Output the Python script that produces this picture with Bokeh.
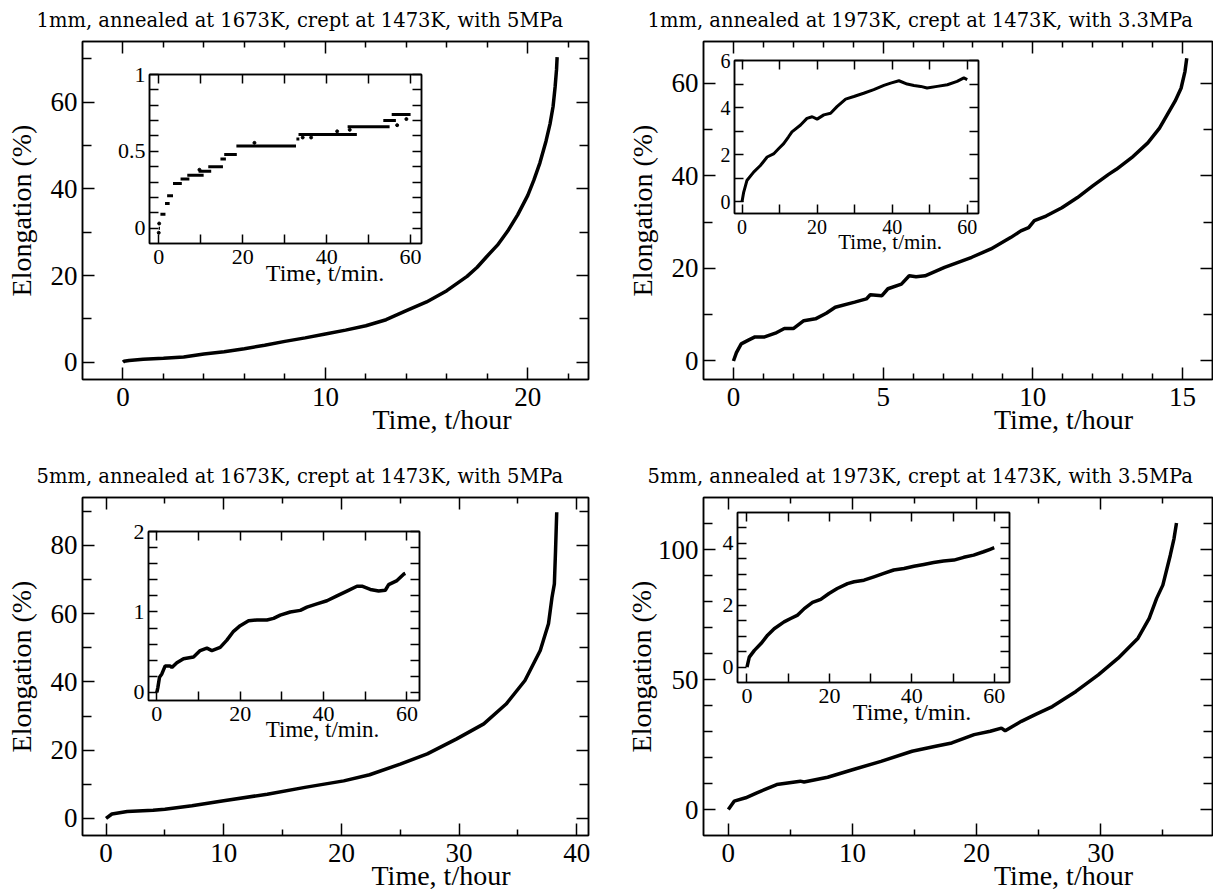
import math
from bokeh.plotting import figure
from bokeh.models import (LinearAxis, FixedTicker, Title, GridBox,
                          CustomJSTickFormatter, Range1d)
from bokeh.embed import file_html
from bokeh.resources import INLINE

# ---------------- texts ----------------
titles = [
    "1mm, annealed at 1673K, crept at 1473K, with 5MPa",
    "1mm, annealed at 1973K, crept at 1473K, with 3.3MPa",
    "5mm, annealed at 1673K, crept at 1473K, with 5MPa",
    "5mm, annealed at 1973K, crept at 1473K, with 3.5MPa",
]
x_title_main = "Time, t/hour"
y_title_main = "Elongation (%)"
x_title_inset = "Time, t/min."

# ---------------- data ----------------
# Panel 1 (1mm, 1673K, 5MPa)
p1_hours = [0, 0.05, 0.3, 1, 2, 3, 4, 5, 6, 7, 8, 9, 10, 11, 12, 13, 14, 15, 16, 17,
            17.5, 18, 18.5, 19, 19.5, 20, 20.3, 20.6, 20.9, 21.1, 21.25, 21.35, 21.42, 21.45]
p1_elong = [0, 0.2, 0.4, 0.7, 0.9, 1.2, 1.9, 2.4, 3.1, 3.9, 4.8, 5.6, 6.5, 7.4, 8.4, 9.8, 11.9,
            13.9, 16.5, 19.8, 21.9, 24.5, 27, 30.2, 34, 38.5, 42, 46, 51, 55, 59, 63.5, 67.5, 70.4]
p1_in_start = [0.0, 0.4, 1.5, 2.0, 3.4, 5.2, 6.8, 9.5, 11.8, 14.7, 15.6, 18.5, 32.8, 33.3, 45.0, 53.5, 55.5]
p1_in_end = [0.3, 1.6, 2.6, 3.4, 5.5, 7.3, 10.7, 12.5, 15.3, 16.0, 18.6, 32.7, 33.5, 47.2, 55.0, 56.5, 60.0]
p1_in_level = [0.0, 0.09, 0.16, 0.21, 0.29, 0.32, 0.345, 0.37, 0.40, 0.45, 0.48, 0.535, 0.58, 0.61,
               0.66, 0.70, 0.74]
p1_in_stray_t = [0.0, 0.1, 9.7, 22.8, 34.3, 36.3, 42.5, 45.5, 56.8, 59.0]
p1_in_stray_e = [-0.03, 0.03, 0.38, 0.555, 0.59, 0.59, 0.63, 0.64, 0.67, 0.71]

# Panel 2 (1mm, 1973K, 3.3MPa)
p2_hours = [0, 0.1, 0.26, 0.5, 0.72, 1.04, 1.4, 1.7, 2.0, 2.35, 2.74, 3.1, 3.4, 4.05, 4.44, 4.57,
            4.96, 5.16, 5.61, 5.87, 6.1, 6.4, 7.05, 7.96, 8.6, 9.27, 9.6, 9.86, 10.05, 10.44, 10.97,
            11.49, 12.0, 12.53, 12.79, 13.3, 13.84, 14.23, 14.49, 14.75, 14.95, 15.08, 15.14]
p2_elong = [0, 1.8, 3.7, 4.5, 5.2, 5.2, 6.0, 7.0, 7.0, 8.7, 9.1, 10.3, 11.6, 12.7, 13.4, 14.3,
            14.1, 15.6, 16.6, 18.4, 18.2, 18.4, 20.2, 22.4, 24.2, 26.7, 28.1, 28.8, 30.3, 31.3, 33.1,
            35.3, 37.8, 40.3, 41.4, 43.9, 47.1, 50.3, 53.2, 56.1, 58.9, 62.5, 65.4]
p2_in_min = [0, 0.44, 1.3, 3.1, 4.9, 6.7, 8.4, 9.8, 11.1, 12.4, 13.3, 15.6, 17.3, 18.7, 20.0, 21.8,
             23.6, 25.3, 27.6, 29.8, 32.4, 35.1, 37.8, 39.6, 41.8, 44.0, 45.8, 47.6, 49.3, 52.0,
             54.7, 57.3, 59.1, 60.0]
p2_in_elong = [0, 0.4, 0.9, 1.26, 1.54, 1.9, 2.03, 2.26, 2.47, 2.76, 2.97, 3.26, 3.54, 3.61, 3.51,
               3.69, 3.76, 4.04, 4.36, 4.47, 4.61, 4.76, 4.94, 5.04, 5.14, 5.0, 4.94, 4.9, 4.83, 4.9,
               4.97, 5.11, 5.26, 5.19]

# Panel 3 (5mm, 1673K, 5MPa)
p3_hours = [0, 0.5, 1.8, 4.0, 5.0, 7.3, 10, 13.7, 16.9, 20.2, 22.4, 25, 27.3, 29.8, 32.1, 34.0,
            35.6, 36.9, 37.6, 37.9, 38.1, 38.2, 38.3]
p3_elong = [0, 1.3, 2.0, 2.4, 2.7, 3.7, 5.2, 7.1, 9.1, 11.0, 12.8, 15.9, 18.9, 23.3, 27.7, 33.5,
            40.4, 49.2, 57.0, 64.8, 68.7, 78.5, 89.7]
p3_in_min = [0, 0.24, 0.64, 1.2, 2.0, 3.2, 3.6, 4.8, 6.4, 8.8, 10.4, 12.0, 13.2, 15.2, 16.8, 18.4,
             20.0, 22.0, 24.0, 26.4, 28.0, 29.6, 32.0, 34.4, 36.0, 38.4, 40.8, 43.2, 45.6, 48.0,
             49.2, 51.2, 53.2, 54.8, 55.6, 57.6, 59.2, 59.6]
p3_in_elong = [0, 0.06, 0.19, 0.23, 0.33, 0.33, 0.31, 0.37, 0.42, 0.44, 0.52, 0.55, 0.52, 0.56,
               0.65, 0.76, 0.83, 0.89, 0.90, 0.90, 0.92, 0.96, 1.0, 1.02, 1.06, 1.10, 1.14, 1.2,
               1.26, 1.32, 1.32, 1.28, 1.26, 1.27, 1.34, 1.39, 1.47, 1.48]

# Panel 4 (5mm, 1973K, 3.5MPa)
p4_hours = [0, 0.47, 1.4, 2.3, 3.9, 5.8, 6.1, 8.0, 10, 12.3, 14.8, 16.7, 18.0, 19.8, 21.1, 22.0,
            22.3, 23.6, 24.8, 26.1, 28.0, 29.8, 31.4, 33.0, 33.9, 34.5, 35.0, 35.6, 35.9, 36.1]
p4_elong = [0, 3.2, 4.5, 6.4, 9.6, 10.9, 10.6, 12.4, 15.3, 18.5, 22.4, 24.3, 25.6, 28.8, 30.1,
            31.3, 30.3, 33.9, 36.7, 39.6, 45.4, 51.8, 58.2, 65.9, 73.5, 81.2, 86.3, 97.8, 104.2,
            110.2]
p4_in_min = [0, 0.56, 1.8, 3.4, 5.0, 6.6, 9.0, 10.6, 12.3, 13.9, 15.9, 17.9, 19.9, 21.9, 24.4,
             26.0, 28.4, 30.8, 33.2, 35.6, 38.1, 40.5, 42.9, 45.3, 47.7, 50.2, 52.6, 55.0, 57.4,
             59.0, 60.0]
p4_in_elong = [0, 0.32, 0.54, 0.76, 1.03, 1.24, 1.46, 1.57, 1.68, 1.89, 2.09, 2.19, 2.38, 2.54,
               2.70, 2.76, 2.81, 2.92, 3.03, 3.14, 3.19, 3.26, 3.32, 3.38, 3.43, 3.46, 3.55, 3.62,
               3.73, 3.81, 3.86]

# ---------------- ticks ----------------
p1_xticks, p1_xminor = [0, 10, 20], [2, 4, 6, 8, 12, 14, 16, 18, 22]
p1_yticks, p1_yminor = [0, 20, 40, 60], [10, 30, 50, 70]
p2_xticks, p2_xminor = [0, 5, 10, 15], [1, 2, 3, 4, 6, 7, 8, 9, 11, 12, 13, 14]
p2_yticks, p2_yminor = [0, 20, 40, 60], [10, 30, 50]
p3_xticks, p3_xminor = [0, 10, 20, 30, 40], [5, 15, 25, 35]
p3_yticks, p3_yminor = [0, 20, 40, 60, 80], [10, 30, 50, 70, 90]
p4_xticks, p4_xminor = [0, 10, 20, 30], [5, 15, 25, 35]
p4_yticks, p4_yminor = [0, 50, 100], [10, 20, 30, 40, 60, 70, 80, 90, 110]
in_xticks, in_xminor = [0, 20, 40, 60], [10, 30, 50]
i1_yticks, i1_yminor = [0, 0.5, 1], [0.1, 0.2, 0.3, 0.4, 0.6, 0.7, 0.8, 0.9]
i1_ylabels = {0: "0", 0.5: "0.5", 1: "1"}
i2_yticks, i2_yminor = [0, 2, 4, 6], [1, 3, 5]
i3_yticks, i3_yminor = [0, 1, 2], [0.2, 0.4, 0.6, 0.8, 1.2, 1.4, 1.6, 1.8]
i4_yticks, i4_yminor = [0, 2, 4], [0.5, 1, 1.5, 2.5, 3, 3.5, 4.5]

SERIF = "Liberation Serif"
TFONT = "DejaVu Serif"


def cfg_axis(ax, ticks, minor, fsize, standoff, maj_len, min_len, labels=True, overrides=None):
    ax.ticker = FixedTicker(ticks=ticks, minor_ticks=minor)
    ax.major_tick_in = maj_len
    ax.major_tick_out = 0
    ax.minor_tick_in = min_len
    ax.minor_tick_out = 0
    ax.major_tick_line_width = 1.5
    ax.minor_tick_line_width = 1.5
    ax.major_tick_line_color = "black"
    ax.minor_tick_line_color = "black"
    ax.axis_line_width = 1.5
    ax.axis_line_color = "black"
    if labels:
        ax.major_label_text_font = SERIF
        ax.major_label_text_font_size = f"{fsize}px"
        ax.major_label_text_color = "black"
        ax.major_label_standoff = standoff
        if overrides:
            ax.major_label_overrides = overrides
    else:
        ax.formatter = CustomJSTickFormatter(code="return ''")
        ax.major_label_text_font_size = "1px"
        ax.major_label_standoff = 0


def make_fig(canvas, frame, xr, yr, transparent=False):
    cx0, cy0, cx1, cy1 = canvas
    fx0, fy0, fx1, fy1 = frame
    p = figure(width=cx1 - cx0, height=cy1 - cy0,
               x_range=Range1d(*xr), y_range=Range1d(*yr),
               output_backend="svg", toolbar_location=None,
               min_border_left=fx0 - cx0, min_border_right=cx1 - fx1,
               min_border_top=fy0 - cy0, min_border_bottom=cy1 - fy1)
    p.background_fill_color = "white"
    p.border_fill_color = None if transparent else "white"
    p.outline_line_color = "black"
    p.outline_line_width = 1.5
    p.grid.visible = False
    p.add_layout(LinearAxis(), "above")
    p.add_layout(LinearAxis(), "right")
    return p


def axes_setup(p, xt, xm, yt, ym, fsize, xstand, ystand, xlen, ylen, overrides=None):
    below, above = p.below[0], p.above[0]
    left, right = p.left[0], p.right[0]
    cfg_axis(below, xt, xm, fsize, xstand, xlen[0], xlen[1])
    cfg_axis(above, xt, xm, fsize, 0, xlen[0], xlen[1], labels=False)
    cfg_axis(left, yt, ym, fsize, ystand, ylen[0], ylen[1], overrides=overrides)
    cfg_axis(right, yt, ym, fsize, 0, ylen[0], ylen[1], labels=False)


def x_title(p, frame, text, size, shift, em_width, standoff):
    """Axis title below the tick labels, shifted right of the frame centre as in the original."""
    fw = frame[2] - frame[0]
    width = em_width * size
    p.add_layout(Title(text=text, align="left", offset=fw / 2 + shift - width / 2,
                       vertical_align="top", standoff=standoff,
                       text_font=SERIF, text_font_size=f"{size}px",
                       text_font_style="normal", text_color="black"), "below")


def main_panel(canvas, frame, xr, yr, xt, xm, yt, ym, xs, ys, ylab_standoff, title, title_left):
    p = make_fig(canvas, frame, xr, yr)
    axes_setup(p, xt, xm, yt, ym, 27, 8, 5, (12, 6), (12, 9))
    left = p.left[0]
    left.axis_label = y_title_main
    left.axis_label_text_font = SERIF
    left.axis_label_text_font_size = "28px"
    left.axis_label_text_font_style = "normal"
    left.axis_label_text_color = "black"
    left.axis_label_standoff = ylab_standoff
    p.title.text = title
    p.title.align = "left"
    p.title.offset = title_left - frame[0]
    p.title.vertical_align = "top"
    p.title.standoff = 15
    p.title.text_font = TFONT
    p.title.text_font_size = "19.5px"
    p.title.text_font_style = "normal"
    p.title.text_color = "black"
    x_title(p, frame, x_title_main, 28, 106, 5.0, -10)
    p.line(xs, ys, line_color="black", line_width=3.5)
    return p


def inset_panel(frame, xr, yr, yt, ym, fsize, tsize, tshift, overrides=None):
    fx0, fy0, fx1, fy1 = frame
    canvas = (fx0 - 45, fy0 - 16, fx1 + 8, fy1 + 50)
    p = make_fig(canvas, frame, xr, yr, transparent=True)
    axes_setup(p, in_xticks, in_xminor, yt, ym, fsize, 6, 4, (9, 9), (9, 9), overrides)
    x_title(p, frame, x_title_inset, tsize, tshift, 4.973, -14)
    return p, canvas


# ---------------- layout geometry ----------------
C1, F1 = (0, 0, 606, 447), (82, 41, 590, 379)
C2, F2 = (606, 0, 1213, 447), (703, 41, 1212, 379)
C3, F3 = (0, 447, 606, 894), (82, 497, 588, 835)
C4, F4 = (606, 447, 1213, 894), (703, 496, 1212, 835)

m1 = main_panel(C1, F1, (-2, 23), (-4, 74), p1_xticks, p1_xminor, p1_yticks, p1_yminor,
                p1_hours, p1_elong, 11, titles[0], 36)
m2 = main_panel(C2, F2, (-1, 16), (-4, 69), p2_xticks, p2_xminor, p2_yticks, p2_yminor,
                p2_hours, p2_elong, 11, titles[1], 647)
m3 = main_panel(C3, F3, (-2, 41), (-5, 94), p3_xticks, p3_xminor, p3_yticks, p3_yminor,
                p3_hours, p3_elong, 11, titles[2], 36)
m4 = main_panel(C4, F4, (-2, 39), (-10, 120), p4_xticks, p4_xminor, p4_yticks, p4_yminor,
                p4_hours, p4_elong, -2, titles[3], 647)

i1, IC1 = inset_panel((149, 74, 421, 243), (-2.2, 62.6), (-0.1, 1.0), i1_yticks, i1_yminor,
                      22, 24, 40, overrides=i1_ylabels)
i1.segment(x0=p1_in_start, y0=p1_in_level, x1=p1_in_end, y1=p1_in_level,
           line_color="black", line_width=3)
i1.scatter(p1_in_stray_t, p1_in_stray_e, size=3, color="black")

i2, IC2 = inset_panel((734, 60, 978, 213), (-2, 63), (-0.5, 6), i2_yticks, i2_yminor, 20, 21, 34)
i2.line(p2_in_min, p2_in_elong, line_color="black", line_width=3)

i3, IC3 = inset_panel((148, 531, 419, 700), (-2, 63), (-0.1, 2.0), i3_yticks, i3_yminor, 22, 23, 39)
i3.line(p3_in_min, p3_in_elong, line_color="black", line_width=3.5)

i4, IC4 = inset_panel((737, 512, 1009, 682), (-2.3, 63.7), (-0.5, 5), i4_yticks, i4_yminor, 22, 24, 39)
i4.line(p4_in_min, p4_in_elong, line_color="black", line_width=3.5)

items = [(m1, C1), (m2, C2), (m3, C3), (m4, C4), (i1, IC1), (i2, IC2), (i3, IC3), (i4, IC4)]
xb = sorted({c[0] for _, c in items} | {c[2] for _, c in items})
yb = sorted({c[1] for _, c in items} | {c[3] for _, c in items})
cols = [f"{b - a}px" for a, b in zip(xb, xb[1:])]
rows = [f"{b - a}px" for a, b in zip(yb, yb[1:])]
children = []
for fig, (x0, y0, x1, y1) in items:
    r, c = yb.index(y0), xb.index(x0)
    children.append((fig, r, c, yb.index(y1) - r, xb.index(x1) - c))

p = GridBox(children=children, rows=rows, cols=cols, spacing=0)

open("out.html", "w").write(file_html(p, INLINE))
